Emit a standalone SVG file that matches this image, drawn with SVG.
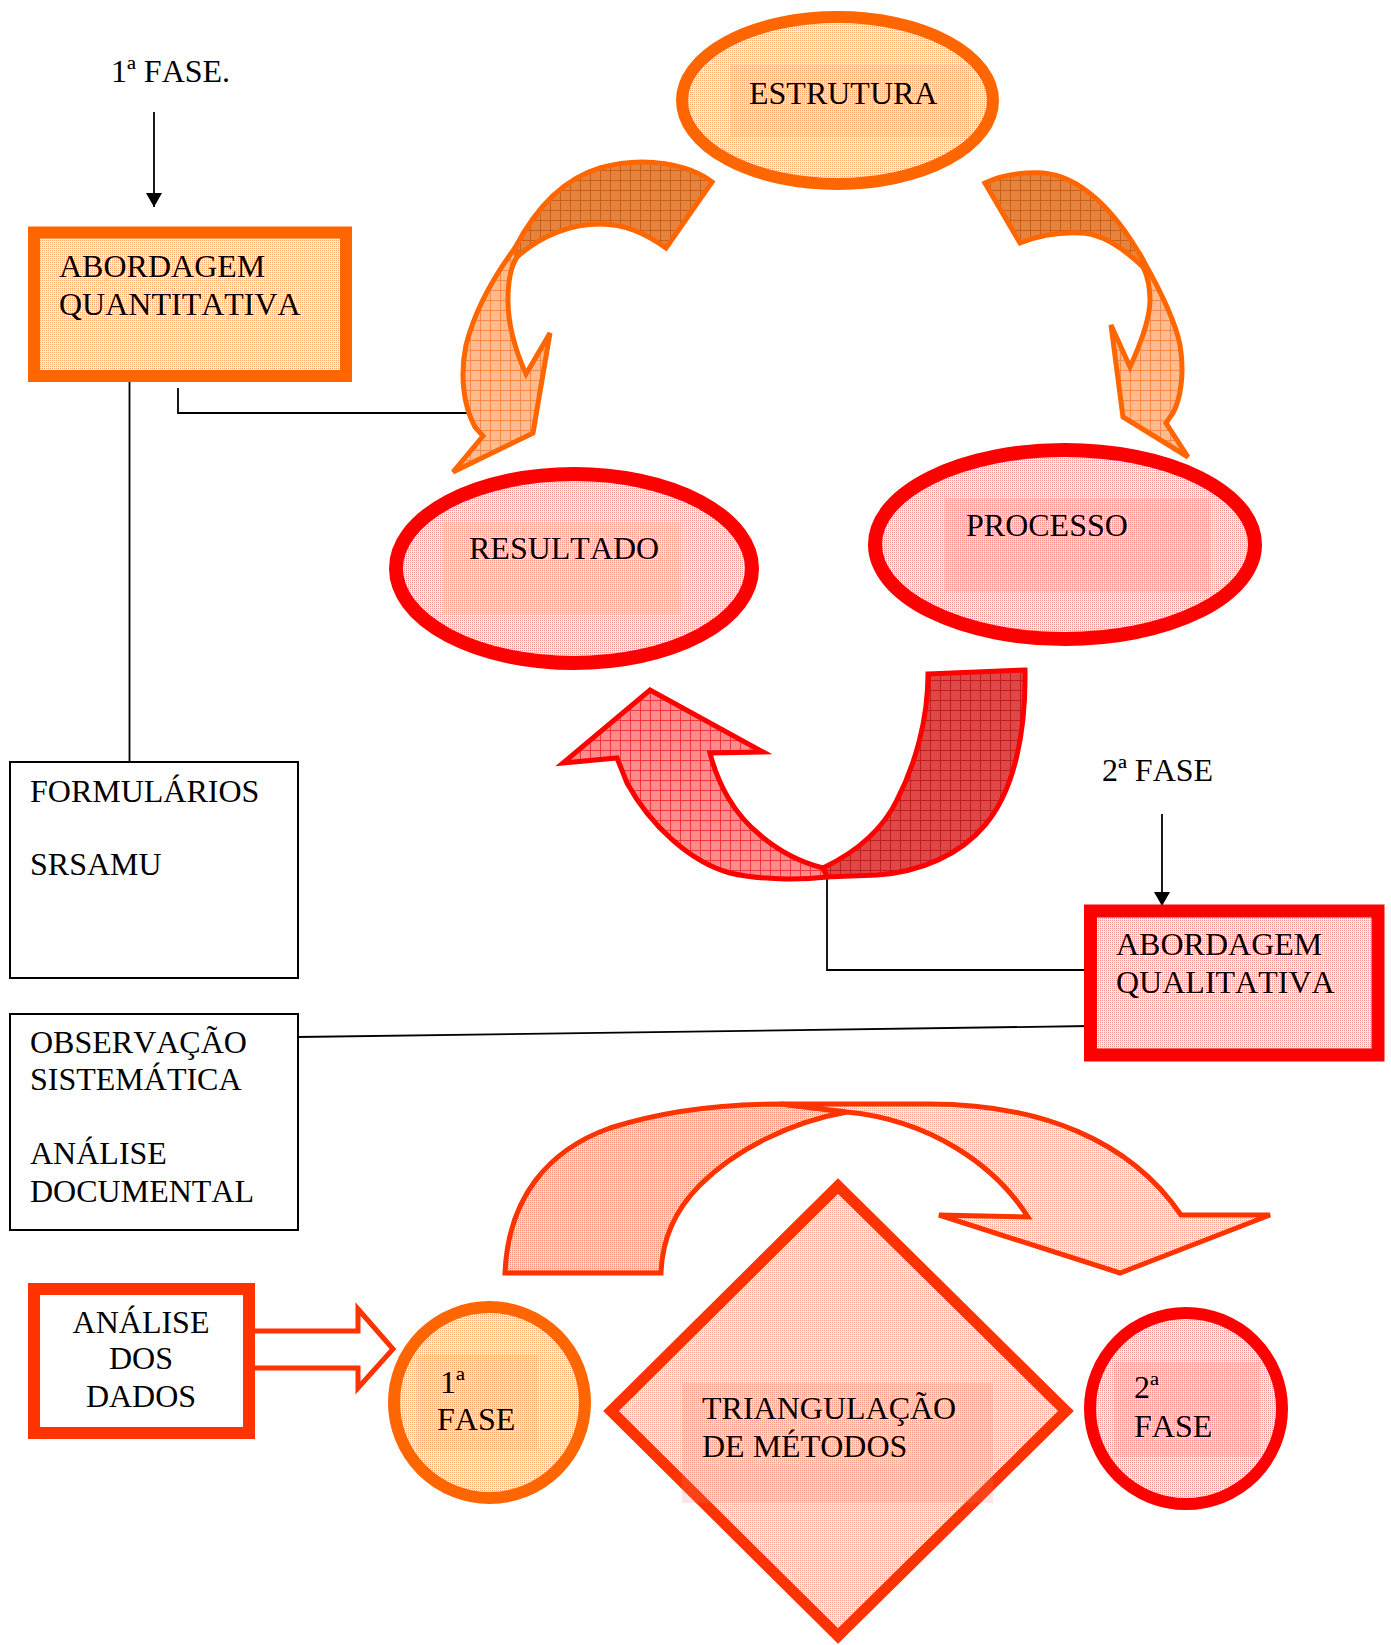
<svg xmlns="http://www.w3.org/2000/svg" width="1391" height="1645" viewBox="0 0 1391 1645">
<style>
.t{font-family:"Liberation Serif","Times New Roman",serif;font-size:32px;fill:#000;font-kerning:none}
.ln{fill:none;stroke:#000;stroke-width:1.8}
.oS{stroke:#FF6600}
.rS{stroke:#FF0000}
.dS{stroke:#FF3300}
.arw{stroke-width:5;stroke-linejoin:miter}
.shO{fill:#F6A36A;fill-opacity:0.2}
.shR{fill:#EE7C7C;fill-opacity:0.2}
</style>
<defs>
<pattern id="dO" width="2" height="2" patternUnits="userSpaceOnUse"><rect width="2" height="2" fill="#FFF0E6"/><rect width="1" height="1" fill="#F6A870"/></pattern>
<pattern id="dR" width="2" height="2" patternUnits="userSpaceOnUse"><rect width="2" height="2" fill="#FDEEEE"/><rect width="1" height="1" fill="#F29090"/></pattern>
<pattern id="dD" width="2" height="2" patternUnits="userSpaceOnUse"><rect width="2" height="2" fill="#FEEDE7"/><rect width="1" height="1" fill="#F4A08A"/></pattern>
<pattern id="dD2" width="2" height="2" patternUnits="userSpaceOnUse"><rect width="2" height="2" fill="#FBD8CC"/><rect width="1" height="1" fill="#EE8C70"/></pattern>
<pattern id="gOL" width="10" height="10" patternUnits="userSpaceOnUse"><rect width="10" height="10" fill="#FFBB8E"/><path d="M0 0.5H10M0.5 0V10" stroke="#F68A4A" stroke-width="1"/></pattern>
<pattern id="gOD" width="10" height="10" patternUnits="userSpaceOnUse"><rect width="10" height="10" fill="#E6843E"/><path d="M0 0.5H10M0.5 0V10" stroke="#C8601A" stroke-width="1"/></pattern>
<pattern id="gRL" width="10" height="10" patternUnits="userSpaceOnUse"><rect width="10" height="10" fill="#FF8C8C"/><path d="M0 0.5H10M0.5 0V10" stroke="#F23838" stroke-width="1"/></pattern>
<pattern id="gRD" width="10" height="10" patternUnits="userSpaceOnUse"><rect width="10" height="10" fill="#E04848"/><path d="M0 0.5H10M0.5 0V10" stroke="#C21E1E" stroke-width="1"/></pattern>
<marker id="ah" markerUnits="userSpaceOnUse" markerWidth="14" markerHeight="16" refX="14" refY="8" orient="auto"><path d="M0,0 L14,8 L0,16 Z" fill="#000"/></marker>
</defs>
<rect width="1391" height="1645" fill="#fff"/>

<g id="connectors">
<line class="ln" x1="154" y1="112" x2="154" y2="207" marker-end="url(#ah)"/>
<line class="ln" x1="1162" y1="814" x2="1162" y2="906" marker-end="url(#ah)"/>
<line class="ln" x1="129.5" y1="376" x2="129.5" y2="762"/>
<polyline class="ln" points="178,388 178,413 467,413"/>
<polyline class="ln" points="827,877 827,970 1091,970"/>
<line class="ln" x1="298" y1="1037" x2="1091" y2="1026"/>
</g>

<g id="block-arrows">
<g id="arrow-estrutura-resultado">
<path class="oS arw" fill="url(#gOD)" d="M712,182 C690,165 645,155 600,168 C570,177 540,200 515,248 L517,257 C540,236 570,224 600,224 C625,224 645,233 666,248 Z"/>
<path class="oS arw" fill="url(#gOL)" d="M515,248 C495,275 475,310 466,345 C460,375 463,405 475,427 L483,436 L453,472 L533,433 L550,333 L526,374 C516,352 508,325 508,300 C508,280 511,266 517,257 Z"/>
</g>
<g id="arrow-estrutura-processo">
<path class="oS arw" fill="url(#gOD)" d="M985,183 C1000,176 1020,172 1043,173 C1080,176 1115,210 1143,260 L1143,267 C1120,245 1100,233 1080,233 C1060,232 1040,235 1020,243 Z"/>
<path class="oS arw" fill="url(#gOL)" d="M1143,260 C1160,290 1175,320 1180,345 C1185,375 1180,400 1173,413 L1166,423 L1188,457 L1123,417 L1111,325 L1130,367 C1140,345 1150,320 1150,300 C1150,285 1147,275 1143,267 Z"/>
</g>
<g id="arrow-processo-resultado">
<path class="rS arw" fill="url(#gRD)" d="M928,674 L1025,670 C1026,730 1015,790 985,825 C960,855 920,872 877,875 L827,877 L823,868 C850,855 880,835 897,800 C915,765 928,720 928,674 Z"/>
<path class="rS arw" fill="url(#gRL)" d="M823,868 L827,877 C800,880 760,880 730,873 C690,862 650,825 627,783 L617,758 L563,763 L650,690 L763,752 L710,753 C718,785 735,815 760,835 C780,852 800,862 823,868 Z"/>
</g>
<g id="arrow-fase1-fase2">
<path class="dS arw" fill="url(#dD2)" d="M505,1273 C508,1198 548,1150 610,1128 C660,1112 720,1104 781,1104 L847,1112 C790,1122 735,1150 700,1185 C675,1210 662,1240 661,1273 Z"/>
<path class="dS arw" fill="url(#dD)" d="M781,1104 L929,1104 C1040,1104 1130,1140 1181,1215 L1270,1215 L1120,1273 L939,1215 L1028,1217 C995,1165 930,1120 847,1112 Z"/>
</g>
<g id="arrow-analise-fase1">
<path class="dS" fill="#fff" stroke-width="5" d="M250,1331 L358,1331 L358,1309 L393,1349 L358,1388 L358,1368 L250,1368 Z"/>
</g>
</g>

<g id="node-fase1-label">
<text class="t" x="111" y="82">1ª FASE.</text>
</g>

<g id="node-quantitativa">
<rect x="34" y="232.5" width="312" height="143.5" fill="url(#dO)" class="oS" stroke-width="12"/>
<text class="t" x="59" y="277">ABORDAGEM</text>
<text class="t" x="59" y="315">QUANTITATIVA</text>
</g>

<g id="node-estrutura">
<ellipse cx="837.5" cy="100.5" rx="155.5" ry="83.5" fill="url(#dO)" class="oS" stroke-width="12"/>
<rect x="730" y="65" width="240" height="72" class="shO"/>
<text class="t" x="749" y="104">ESTRUTURA</text>
</g>

<g id="node-resultado">
<ellipse cx="574" cy="568.5" rx="178" ry="94.5" fill="url(#dR)" class="rS" stroke-width="14"/>
<rect x="443" y="522" width="238" height="93" class="shO"/>
<text class="t" x="469" y="559">RESULTADO</text>
</g>

<g id="node-processo">
<ellipse cx="1065" cy="544.5" rx="190" ry="94.5" fill="url(#dR)" class="rS" stroke-width="14"/>
<rect x="945" y="498" width="265" height="94" class="shR"/>
<text class="t" x="966" y="536">PROCESSO</text>
</g>

<g id="node-fase2-label">
<text class="t" x="1102" y="781">2ª FASE</text>
</g>

<g id="node-qualitativa">
<rect x="1090.5" y="911" width="287.5" height="144" fill="url(#dR)" class="rS" stroke-width="13"/>
<text class="t" x="1116" y="955">ABORDAGEM</text>
<text class="t" x="1116" y="993">QUALITATIVA</text>
</g>

<g id="node-formularios">
<rect x="10" y="762" width="288" height="216" fill="#fff" stroke="#000" stroke-width="2"/>
<text class="t" x="30" y="802">FORMULÁRIOS</text>
<text class="t" x="30" y="875">SRSAMU</text>
</g>

<g id="node-observacao">
<rect x="10" y="1014" width="288" height="216" fill="#fff" stroke="#000" stroke-width="2"/>
<text class="t" x="30" y="1053">OBSERVAÇÃO</text>
<text class="t" x="30" y="1090">SISTEMÁTICA</text>
<text class="t" x="30" y="1164">ANÁLISE</text>
<text class="t" x="30" y="1202">DOCUMENTAL</text>
</g>

<g id="node-analise-dados">
<rect x="34" y="1289" width="215" height="144" fill="#fff" class="dS" stroke-width="12"/>
<text class="t" x="141" y="1333" text-anchor="middle">ANÁLISE</text>
<text class="t" x="141" y="1369" text-anchor="middle">DOS</text>
<text class="t" x="141" y="1407" text-anchor="middle">DADOS</text>
</g>

<g id="node-fase1">
<ellipse cx="489.5" cy="1402.5" rx="95.5" ry="95.5" fill="url(#dO)" class="oS" stroke-width="12"/>
<rect x="417" y="1355" width="121" height="95" class="shO"/>
<text class="t" x="440" y="1393">1ª</text>
<text class="t" x="437" y="1430">FASE</text>
</g>

<g id="node-triangulacao">
<polygon points="838,1186 1066,1411 838,1636 611,1411" fill="url(#dD)" class="dS" stroke-width="11"/>
<rect x="682" y="1383" width="311" height="120" class="shR"/>
<text class="t" x="702" y="1419">TRIANGULAÇÃO</text>
<text class="t" x="702" y="1457">DE MÉTODOS</text>
</g>

<g id="node-fase2">
<ellipse cx="1186" cy="1408.5" rx="96" ry="95.5" fill="url(#dR)" class="rS" stroke-width="12"/>
<rect x="1114" y="1362" width="146" height="95" class="shR"/>
<text class="t" x="1134" y="1398">2ª</text>
<text class="t" x="1134" y="1437">FASE</text>
</g>
</svg>
